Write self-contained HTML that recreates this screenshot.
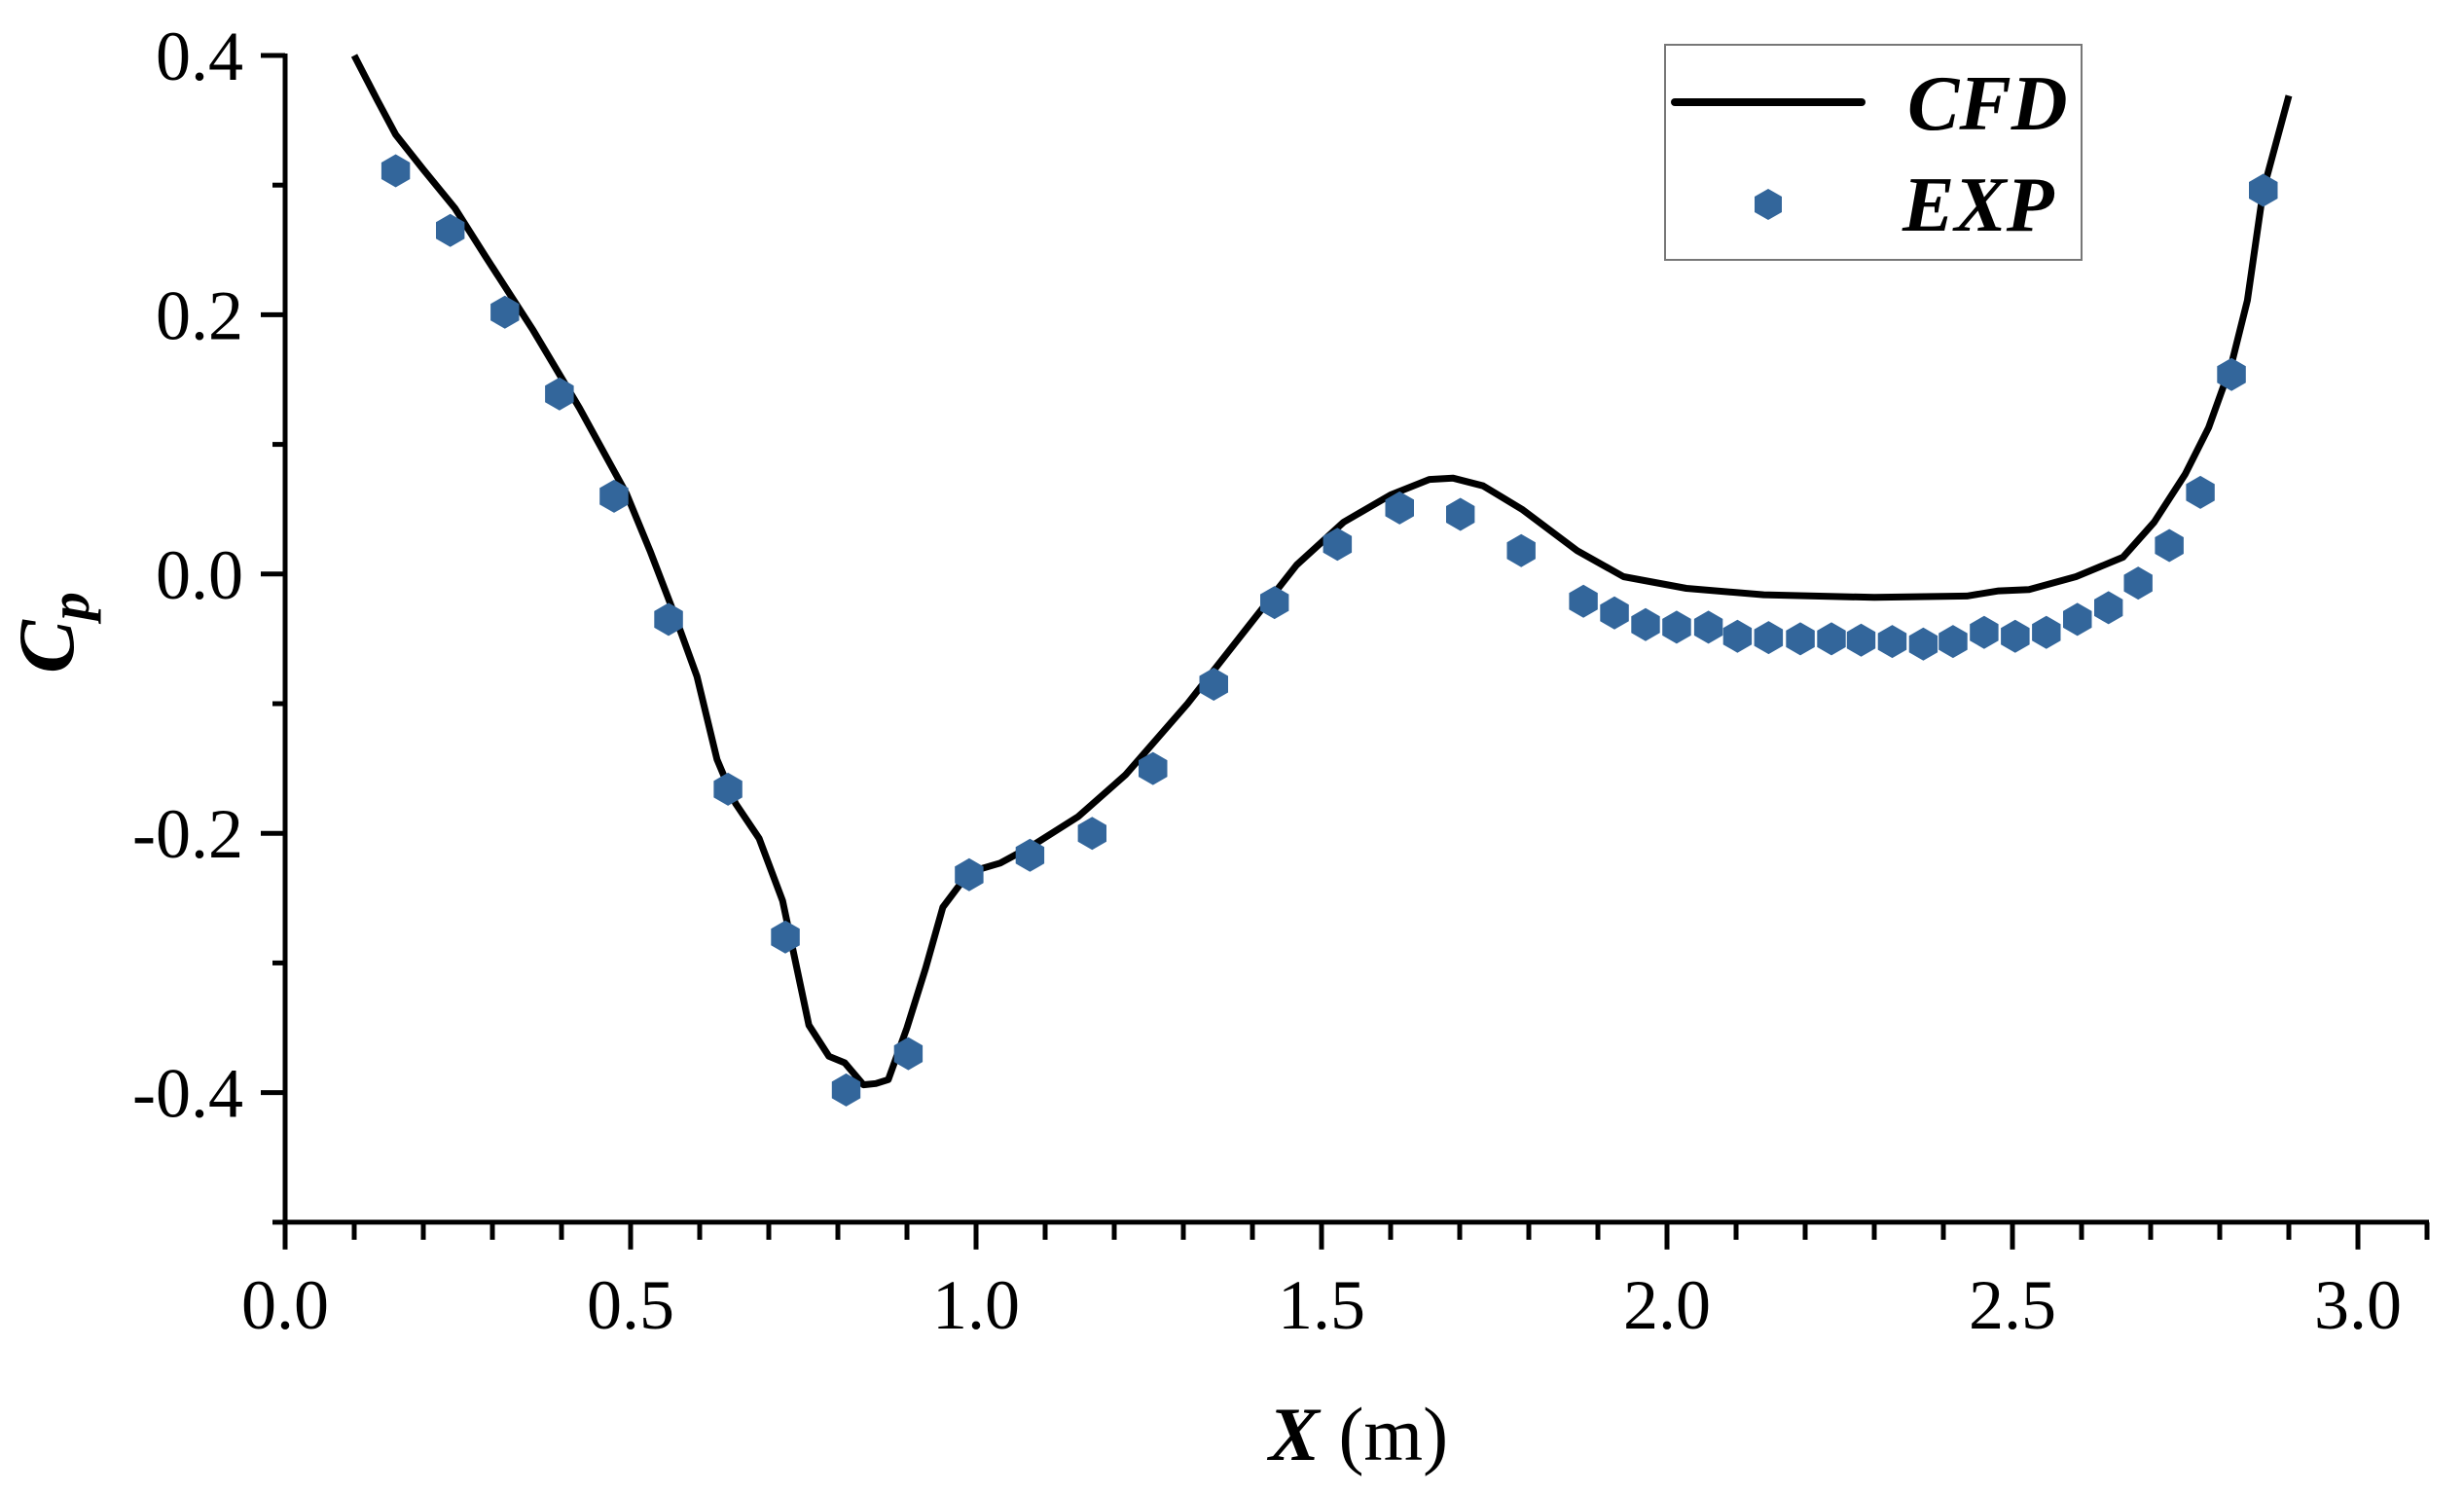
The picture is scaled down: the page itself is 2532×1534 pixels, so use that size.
<!DOCTYPE html>
<html><head><meta charset="utf-8"><style>
html,body{margin:0;padding:0;background:#fff}
svg{display:block}
text{font-family:"Liberation Serif",serif;fill:#000}
</style></head><body>
<svg id="chart" width="2532" height="1534" viewBox="0 0 2532 1534" xmlns="http://www.w3.org/2000/svg">
<g id="axes"></g>
<path id="cfd" fill="none" stroke="#000" stroke-width="7" stroke-linejoin="round"/>
<g id="exp"></g>
<text x="1396" y="1500" font-size="78" text-anchor="middle"><tspan font-weight="bold" font-style="italic">X</tspan> (m)</text>
<text transform="translate(75,650) rotate(-90)" font-size="82" text-anchor="middle" font-weight="bold" font-style="italic">C<tspan font-size="58" dy="16">p</tspan></text>
<g>
<rect x="1711" y="46" width="428" height="221" fill="#fff" stroke="#777" stroke-width="2"/>
<line x1="1721" y1="105" x2="1913" y2="105" stroke="#000" stroke-width="8" stroke-linecap="round"/>
<text x="1960" y="133" font-size="80" font-weight="bold" font-style="italic">CFD</text>
<polygon points="1817,194 1831,202 1831,218 1817,226 1803,218 1803,202" fill="#33669b"/>
<text x="1955" y="237" font-size="80" font-weight="bold" font-style="italic">EXP</text>
</g>
</svg>
<script>
const expX=[0.16,0.239,0.318,0.397,0.476,0.555,0.641,0.724,0.812,0.902,0.99,1.078,1.168,1.256,1.344,1.432,1.523,1.613,1.701,1.789,1.879,1.924,1.969,2.014,2.06,2.102,2.147,2.193,2.238,2.281,2.326,2.371,2.414,2.459,2.504,2.549,2.594,2.639,2.682,2.727,2.772,2.817,2.863];
const expY=[0.311,0.265,0.202,0.139,0.060,-0.035,-0.166,-0.280,-0.398,-0.370,-0.232,-0.217,-0.200,-0.150,-0.085,-0.022,0.023,0.051,0.046,0.018,-0.021,-0.030,-0.039,-0.041,-0.041,-0.048,-0.049,-0.050,-0.050,-0.051,-0.052,-0.054,-0.052,-0.045,-0.048,-0.045,-0.035,-0.026,-0.007,0.022,0.063,0.154,0.296];
const cfdX=[0.10,0.133,0.16,0.2,0.246,0.29,0.359,0.426,0.494,0.528,0.562,0.596,0.625,0.652,0.686,0.72,0.758,0.787,0.81,0.837,0.855,0.873,0.9,0.927,0.952,0.99,1.035,1.08,1.148,1.216,1.306,1.396,1.464,1.532,1.6,1.656,1.69,1.734,1.79,1.87,1.937,2.028,2.14,2.3,2.434,2.48,2.524,2.592,2.66,2.705,2.75,2.784,2.817,2.84,2.863,2.9];
const cfdY=[0.4,0.366,0.339,0.312,0.282,0.245,0.188,0.128,0.062,0.018,-0.029,-0.079,-0.143,-0.177,-0.204,-0.252,-0.348,-0.372,-0.377,-0.394,-0.393,-0.39,-0.35,-0.304,-0.257,-0.230,-0.223,-0.21,-0.187,-0.155,-0.1,-0.039,0.007,0.04,0.061,0.073,0.074,0.068,0.05,0.018,-0.002,-0.011,-0.016,-0.018,-0.017,-0.013,-0.012,-0.002,0.013,0.040,0.077,0.113,0.162,0.211,0.296,0.369];
const xTicks=[0,0.5,1.0,1.5,2.0,2.5,3.0];
const xTickLabels=["0.0","0.5","1.0","1.5","2.0","2.5","3.0"];
const yTicks=[0.4,0.2,0.0,-0.2,-0.4];
const yTickLabels=["0.4","0.2","0.0","-0.2","-0.4"];

const X0=293,XS=710,Y0=57,YS=1332,YMAX=0.4,YMIN=-0.5,XMAX=3.1;
const sx=v=>X0+v*XS, sy=v=>Y0+(YMAX-v)*YS;
const NS="http://www.w3.org/2000/svg";
const axes=document.getElementById('axes');
function mk(tag,attrs,parent){const e=document.createElementNS(NS,tag);for(const k in attrs)e.setAttribute(k,attrs[k]);parent.appendChild(e);return e;}
let l=mk('line',{x1:sx(0),y1:sy(YMAX)-2,x2:sx(0),y2:sy(YMIN)+3,stroke:'#000','stroke-width':5},axes);


l=mk('line',{x1:sx(0)-3,y1:sy(YMIN),x2:sx(XMAX)+2,y2:sy(YMIN),stroke:'#000','stroke-width':5},axes);


for(let i=0;i<=31;i++){const v=i/10,maj=i%5===0;
 const t=mk('line',{x1:sx(v),y1:sy(YMIN),x2:sx(v),y2:sy(YMIN)+(maj?28:18),stroke:'#000','stroke-width':5},axes);
 
 }
for(let i=-5;i<=4;i++){const v=i/10,maj=(i%2===0);
 const t=mk('line',{x1:sx(0),y1:sy(v),x2:sx(0)-(maj?25:13),y2:sy(v),stroke:'#000','stroke-width':5},axes);
 
 }
xTicks.forEach((v,i)=>{const t=mk('text',{x:sx(v),y:1365,'font-size':72,'text-anchor':'middle'},axes);t.textContent=xTickLabels[i];
 
 });
yTicks.forEach((v,i)=>{const t=mk('text',{x:250,y:sy(v)+25,'font-size':72,'text-anchor':'end'},axes);t.textContent=yTickLabels[i];
 
 });
document.getElementById('cfd').setAttribute('d',cfdX.map((v,i)=>(i?'L':'M')+sx(v).toFixed(1)+','+sy(cfdY[i]).toFixed(1)).join(' '));
const eg=document.getElementById('exp');
expX.forEach((v,i)=>{const cx=sx(v),cy=sy(expY[i]),r=17;const pts=[];
 for(let k=0;k<6;k++){const a=Math.PI/180*(60*k-90);pts.push((cx+r*Math.cos(a)).toFixed(1)+','+(cy+r*Math.sin(a)).toFixed(1));}
 const p=mk('polygon',{points:pts.join(' '),fill:'#33669b'},eg);
 
 });
</script>
</body></html>
